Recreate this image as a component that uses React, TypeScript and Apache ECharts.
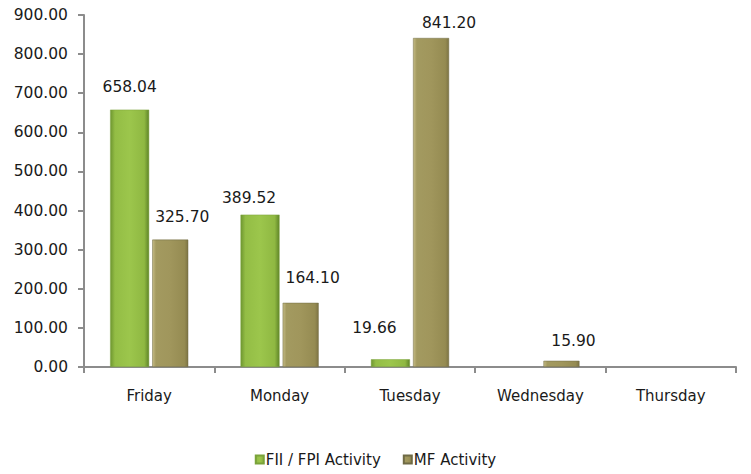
import React, { useEffect, useRef } from "react";
import * as echarts from "echarts";

const categories = ["Friday", "Monday", "Tuesday", "Wednesday", "Thursday"];
const fiiValues: (number | null)[] = [658.04, 389.52, 19.66, null, null];
const mfValues: (number | null)[] = [325.7, 164.1, 841.2, 15.9, null];
const fiiLabelOffsets: [number, number][] = [[0, -10], [-11, -4], [-16, -18], [0, 0], [0, 0]];
const mfLabelOffsets: [number, number][] = [[12, -10], [12, -12], [18, -2], [12, -7], [0, 0]];

const FONT = "DejaVu Sans";

const greenGrad = new echarts.graphic.LinearGradient(0, 0, 1, 0, [
  { offset: 0, color: "#6e9630" },
  { offset: 0.12, color: "#93bd45" },
  { offset: 0.5, color: "#9cc64c" },
  { offset: 0.88, color: "#8fb842" },
  { offset: 1, color: "#5f8528" },
]);
const tanGrad = new echarts.graphic.LinearGradient(0, 0, 1, 0, [
  { offset: 0, color: "#c4ba83" },
  { offset: 0.1, color: "#a39a60" },
  { offset: 0.5, color: "#a0965c" },
  { offset: 0.9, color: "#958b52" },
  { offset: 1, color: "#7d7444" },
]);

export default function App() {
  const ref = useRef<HTMLDivElement>(null);
  useEffect(() => {
    if (!ref.current) return;
    const chart = echarts.init(ref.current, null, { renderer: "svg" });
    const mk = (vals: (number | null)[], offs: [number, number][]) =>
      vals.map((v, i) => ({
        value: v,
        label: { offset: offs[i] },
      }));
    const fmt = (p: any) => (p.value == null ? "" : Number(p.value).toFixed(2));
    chart.setOption({
      animation: false,
      textStyle: { fontFamily: FONT },
      grid: { left: 84, right: 15, top: 15, bottom: 107 },
      legend: {
        bottom: 2,
        left: "center",
        itemWidth: 8,
        itemHeight: 8,
        itemGap: 22,
        icon: "rect",
        textStyle: { fontFamily: FONT, fontSize: 15, color: "#1a1a1a", padding: [0, 0, 0, -3] },
        data: ["FII / FPI Activity", "MF Activity"],
      },
      xAxis: {
        type: "category",
        data: categories,
        axisLine: { lineStyle: { color: "#8c8c8c", width: 2 } },
        axisTick: { show: true, length: 6, lineStyle: { color: "#8c8c8c", width: 2 } },
        axisLabel: { fontSize: 15, color: "#1a1a1a", margin: 21, fontFamily: FONT },
      },
      yAxis: {
        type: "value",
        min: 0,
        max: 900,
        interval: 100,
        splitLine: { show: false },
        axisLine: { show: true, lineStyle: { color: "#8c8c8c", width: 2 } },
        axisTick: { show: true, length: 6, lineStyle: { color: "#8c8c8c", width: 2 } },
        axisLabel: {
          fontSize: 15.5,
          color: "#1a1a1a",
          margin: 16,
          fontFamily: FONT,
          formatter: (v: number) => v.toFixed(2),
        },
      },
      series: [
        {
          name: "FII / FPI Activity",
          type: "bar",
          barWidth: 39,
          barGap: "8%",
          data: mk(fiiValues, fiiLabelOffsets),
          itemStyle: { color: greenGrad, borderColor: "#7aa33a", borderWidth: 0.5 },
          label: { show: true, position: "top", fontSize: 15.5, color: "#1a1a1a", fontFamily: FONT, formatter: fmt },
        },
        {
          name: "MF Activity",
          type: "bar",
          barWidth: 36,
          data: mk(mfValues, mfLabelOffsets),
          itemStyle: { color: tanGrad, borderColor: "#6f6a45", borderWidth: 0.5 },
          label: { show: true, position: "top", fontSize: 15.5, color: "#1a1a1a", fontFamily: FONT, formatter: fmt },
        },
      ],
    });
    return () => chart.dispose();
  }, []);
  return <div ref={ref} style={{ width: 751, height: 474, position: "absolute", left: 0, top: 0 }} />;
}
